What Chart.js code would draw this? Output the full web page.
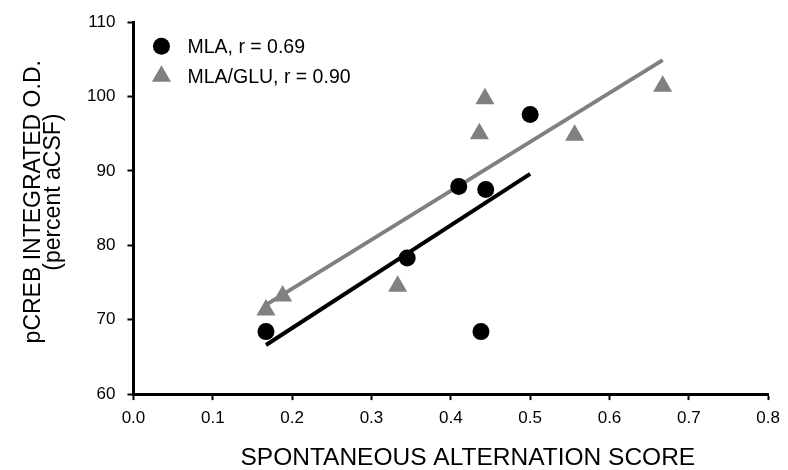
<!DOCTYPE html>
<html>
<head>
<meta charset="utf-8">
<script src="https://cdn.jsdelivr.net/npm/chart.js@4"></script>
<style>
  html, body { margin: 0; padding: 0; background: #fff; }
  #wrap { width: 788px; height: 470px; }
</style>
</head>
<body>
<div id="wrap"><canvas id="myChart"></canvas></div>
<script>
const xTicks = [0.0, 0.1, 0.2, 0.3, 0.4, 0.5, 0.6, 0.7, 0.8];
const yTicks = [60, 70, 80, 90, 100, 110];

const mlaX = [0.167, 0.345, 0.41, 0.444, 0.438, 0.5];
const mlaY = [68.4, 78.3, 87.9, 87.5, 68.4, 97.6];
const gluX = [0.167, 0.188, 0.333, 0.436, 0.443, 0.556, 0.667];
const gluY = [71.3, 73.2, 74.5, 95.0, 99.7, 94.8, 101.4];

// regression lines (end points)
const mlaFitX = [0.167, 0.5];
const mlaFitY = [66.6, 89.6];
const gluFitX = [0.167, 0.667];
const gluFitY = [72.0, 104.9];

const pts = (xs, ys) => xs.map((x, i) => ({ x: x, y: ys[i] }));
const FONT = "'Liberation Sans', Arial, sans-serif";
const GREY = "#808080";

// legend drawn inside the top-left corner of the plot, one row per marker series
const insideLegend = {
  id: "insideLegend",
  afterDatasetsDraw(chart) {
    const { ctx, chartArea } = chart;
    ctx.save();
    ctx.font = "19.5px " + FONT;
    ctx.textBaseline = "middle";
    chart.data.datasets.slice(0, 2).forEach((ds, i) => {
      const x = chartArea.left + 28;
      const y = chartArea.top + 24 + i * 30;
      ctx.fillStyle = ds.backgroundColor;
      Chart.helpers.drawPoint(ctx, { pointStyle: ds.pointStyle, radius: ds.pointRadius, borderWidth: 0 }, x, y);
      ctx.fillStyle = "#000";
      ctx.fillText(ds.label, x + 26, y + 1);
    });
    ctx.restore();
  },
};

const ctx = document.getElementById("myChart");
new Chart(ctx, {
  type: "scatter",
  data: {
    datasets: [
      {
        label: "MLA, r = 0.69",
        data: pts(mlaX, mlaY),
        pointStyle: "circle",
        pointRadius: 8.5,
        backgroundColor: "#000",
        borderColor: "#000",
        borderWidth: 0,
        order: 1,
      },
      {
        label: "MLA/GLU, r = 0.90",
        data: pts(gluX, gluY),
        pointStyle: "triangle",
        pointRadius: 11,
        backgroundColor: GREY,
        borderColor: GREY,
        borderWidth: 0,
        order: 1,
      },
      {
        label: "fit MLA",
        data: pts(mlaFitX, mlaFitY),
        showLine: true,
        pointRadius: 0,
        borderColor: "#000",
        borderWidth: 4,
        order: 2,
      },
      {
        label: "fit MLA/GLU",
        data: pts(gluFitX, gluFitY),
        showLine: true,
        pointRadius: 0,
        borderColor: GREY,
        borderWidth: 4,
        order: 2,
      },
    ],
  },
  options: {
    responsive: true,
    maintainAspectRatio: false,
    animation: false,
    layout: { autoPadding: false, padding: { top: 18, right: 15, left: 24, bottom: 0 } },
    plugins: {
      tooltip: { enabled: false },
      legend: { display: false },
    },
    scales: {
      x: {
        type: "linear",
        min: 0,
        max: 0.8,
        afterBuildTicks: (axis) => { axis.ticks = xTicks.map((v) => ({ value: v })); },
        border: { color: "#000", width: 3 },
        grid: { drawOnChartArea: false, tickLength: 6, tickColor: "#000", tickWidth: 2 },
        ticks: {
          color: "#000",
          padding: 8,
          font: { family: FONT, size: 17 },
          callback: (v) => v.toFixed(1),
        },
        title: {
          display: true,
          text: "     SPONTANEOUS ALTERNATION SCORE",
          color: "#000",
          font: { family: FONT, size: 24.5, lineHeight: 1 },
          padding: { top: 9, bottom: 0 },
        },
      },
      y: {
        type: "linear",
        min: 60,
        max: 110,
        afterBuildTicks: (axis) => { axis.ticks = yTicks.map((v) => ({ value: v })); },
        border: { color: "#000", width: 3 },
        grid: { drawOnChartArea: false, tickLength: 6, tickColor: "#000", tickWidth: 2 },
        ticks: {
          color: "#000",
          padding: 12,
          font: { family: FONT, size: 17 },
        },
        title: {
          display: true,
          text: ["  pCREB INTEGRATED O.D.", "     (percent aCSF)"],
          color: "#000",
          font: { family: FONT, size: 23, lineHeight: 0.85 },
          padding: { top: 0, bottom: 12 },
        },
      },
    },
  },
  plugins: [insideLegend],
});
</script>
</body>
</html>
